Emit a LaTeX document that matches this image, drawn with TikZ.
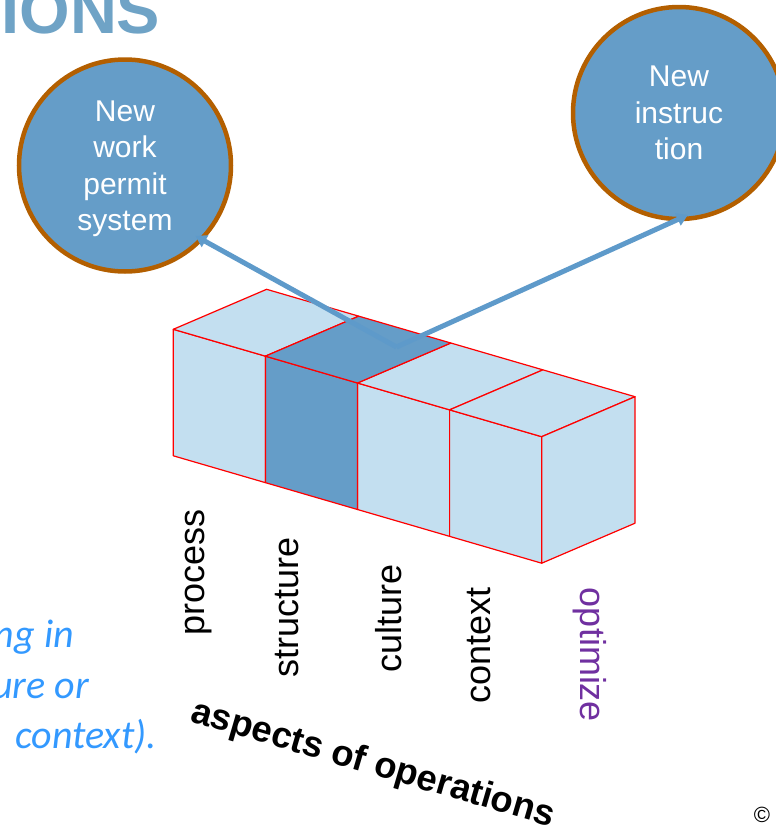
\documentclass[tikz,border=0pt]{standalone}
\usepackage{fontspec}
\setmainfont{Liberation Sans}
\newfontfamily\notefont{Carlito}
\usetikzlibrary{arrows.meta,calc}

\definecolor{facelight}{HTML}{C3DFF0}
\definecolor{facedark}{HTML}{659DC8}
\definecolor{edgered}{HTML}{FF0000}
\definecolor{rimbrown}{HTML}{B35F00}
\definecolor{linkblue}{HTML}{5E9ACA}
\definecolor{titleblue}{HTML}{6FA3C6}
\definecolor{notecol}{HTML}{3399FF}
\definecolor{optpurple}{HTML}{7030A0}

\begin{document}
\begin{tikzpicture}[x=1pt,y=-1pt,
  face/.style={draw=edgered,line width=1.2pt,line join=round,fill=facelight},
  darkface/.style={face,fill=facedark},
  bubble/.style={circle,draw=rimbrown,line width=4.5pt,fill=facedark,
    minimum size=212pt,inner sep=0pt,text=white,align=center,text depth=0pt,
    font=\fontsize{30}{36.5}\selectfont},
  link/.style={draw=linkblue,line width=5pt,-{Triangle[length=11pt,width=13pt]}},
  aspect/.style={inner sep=0pt,anchor=base,font=\fontsize{36}{40}\selectfont},
  note/.style={inner sep=0pt,anchor=base east,text=notecol,
    font=\notefont\itshape\fontsize{40}{48}\selectfont}]

\useasboundingbox (0,0) rectangle (776,833);
\clip (0,0) rectangle (776,833);

% heading, partly outside the page
\node[anchor=base east,inner sep=0pt,text=titleblue,
  font=\bfseries\fontsize{65}{70}\selectfont] (title) at (160.5,33) {IONS};

% bubbles
\node[bubble] (leftc) at (125,165.5) {New\\work\\permit\\system};
\node[bubble] (rightc) at (679,113) {New\\instruc\\tion};

% the block of four cubes: front top, front bottom, back top corners
\coordinate (f0) at (173.3,329.3);
\coordinate (f1) at (265.4,356.15);
\coordinate (f2) at (357.5,383.0);
\coordinate (f3) at (449.6,409.85);
\coordinate (f4) at (541.7,436.7);
\coordinate (b0) at (173.3,455.8);
\coordinate (b1) at (265.4,482.65);
\coordinate (b2) at (357.5,509.5);
\coordinate (b3) at (449.6,536.35);
\coordinate (b4) at (541.7,563.2);
\coordinate (t0) at (266.6,289.3);
\coordinate (t1) at (358.7,316.15);
\coordinate (t2) at (450.8,343.0);
\coordinate (t3) at (542.9,369.85);
\coordinate (t4) at (635,396.7);
\coordinate (rb) at (635,523.2);

% front faces
\draw[face] (f0) -- (f1) -- (b1) -- (b0) -- cycle;
\draw[face] (f2) -- (f3) -- (b3) -- (b2) -- cycle;
\draw[face] (f3) -- (f4) -- (b4) -- (b3) -- cycle;
% top faces
\draw[face] (f0) -- (f1) -- (t1) -- (t0) -- cycle;
\draw[face] (f2) -- (f3) -- (t3) -- (t2) -- cycle;
\draw[face] (f3) -- (f4) -- (t4) -- (t3) -- cycle;
% right side
\draw[face] (f4) -- (t4) -- (rb) -- (b4) -- cycle;
% highlighted column
\draw[darkface] (f1) -- (f2) -- (b2) -- (b1) -- cycle;
\draw[darkface] (f1) -- (f2) -- (t2) -- (t1) -- cycle;

% connectors from the highlighted column to the bubbles
\coordinate (hub) at (396.5,347);
\draw[link] (hub) -- ($(leftc.center)!0.92!(leftc.-45)$);
\draw[link] (hub) -- ($(rightc.center)!0.945!(rightc.-85.7)$);

% column labels
\node[aspect,rotate=90] (lprocess) at (204,572.5) {process};
\node[aspect,rotate=90] (lstructure) at (298.3,607.5) {structure};
\node[aspect,rotate=90] (lculture) at (401.7,618) {culture};
\node[aspect,rotate=90] (lcontext) at (490,645.5) {context};
\node[aspect,rotate=-90,text=optpurple] (loptimize) at (580.3,655) {optimize};

\node[inner sep=0pt,anchor=base west,rotate=-16.3,
  font=\bfseries\fontsize{36.5}{40}\selectfont] (axis) at (189,721) {aspects of operations};

% note text at the left
\node[note] (note1) at (74,647) {ng in};
\node[note] (note2) at (89,698) {ure or};
\node[note] (note3) at (157,748) {context).};

\node[inner sep=0pt,font=\fontsize{22}{24}\selectfont] (copy) at (762,815) {©};
\end{tikzpicture}
\end{document}
